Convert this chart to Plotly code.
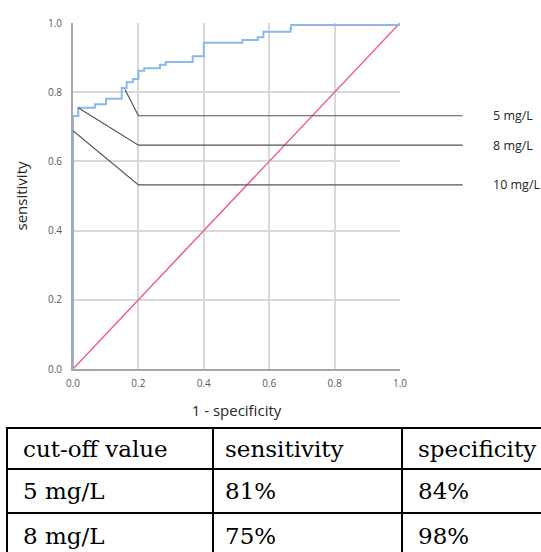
import plotly.graph_objects as go

W, H = 541, 552

# ---- ROC data (1 - specificity, sensitivity), step vertices ----
fpr = [0.0, 0.0, 0.016, 0.067, 0.101, 0.149, 0.164, 0.183, 0.2, 0.218, 0.266,
       0.284, 0.366, 0.4, 0.518, 0.565, 0.582, 0.665, 0.667, 1.0]
tpr = [0.0, 0.731, 0.755, 0.765, 0.781, 0.812, 0.829, 0.838, 0.862, 0.869, 0.879,
       0.887, 0.904, 0.943, 0.951, 0.959, 0.975, 0.983, 0.994, 1.0]

ref_x = [0.0, 1.0]
ref_y = [0.0, 1.0]

# cut-off leaders: point on the curve -> label level
cutoff_labels = ["5 mg/L", "8 mg/L", "10 mg/L"]
cutoff_x = [0.159, 0.016, 0.0]
cutoff_y = [0.808, 0.755, 0.689]
label_level = [0.732, 0.647, 0.532]

tick_vals = [0.0, 0.2, 0.4, 0.6, 0.8, 1.0]
tick_text = ["0.0", "0.2", "0.4", "0.6", "0.8", "1.0"]

table_header = ["cut-off value", "sensitivity", "specificity"]
table_rows = [["5 mg/L", "81%", "84%"],
              ["8 mg/L", "75%", "98%"]]

# ---- geometry (pixels) ----
PX0, PX1 = 73, 400      # plot area x
PY0, PY1 = 23, 369      # plot area y (top, bottom)
scale_x = PX1 - PX0

def px(x):
    return x / W

def py(y):
    return 1 - y / H

fig = go.Figure()

fig.add_trace(go.Scatter(x=ref_x, y=ref_y, mode="lines",
                         line=dict(color="#EE6284", width=1.5),
                         hoverinfo="skip", showlegend=False))
fig.add_trace(go.Scatter(x=fpr, y=tpr, mode="lines", line_shape="hv",
                         line=dict(color="#8DB8EC", width=2),
                         showlegend=False))

bend_x = 0.2
end_x = (462.7 - PX0) / scale_x
lab_x = (491.0 - PX0) / scale_x
for lab, cx, cy, ly in zip(cutoff_labels, cutoff_x, cutoff_y, label_level):
    fig.add_trace(go.Scatter(x=[cx, bend_x, end_x], y=[cy, ly, ly], mode="lines",
                             line=dict(color="#555555", width=1.2),
                             xaxis="x2", yaxis="y2", hoverinfo="skip",
                             showlegend=False))
    fig.add_annotation(x=lab_x, y=ly, xref="x2", yref="y2", text=lab,
                       showarrow=False, xanchor="left", yanchor="middle",
                       font=dict(family="Open Sans", size=12.5, color="#262626"))

axis_font = dict(family="Open Sans", size=10, color="#595959")
x2_range_max = (W - PX0) / scale_x

fig.update_layout(
    width=W, height=H,
    margin=dict(l=0, r=0, t=0, b=0),
    paper_bgcolor="white",
    plot_bgcolor="rgba(0,0,0,0)",
    xaxis=dict(domain=[px(PX0), px(PX1)], range=[0, 1], tickvals=tick_vals,
               ticktext=tick_text, showgrid=True, gridcolor="#D9D9D9", gridwidth=1.5,
               zeroline=False, showline=True, linecolor="#A6A6A6", linewidth=2,
               ticks="", tickfont=axis_font, automargin=False, ticklabelstandoff=4,
               title=dict(text="1 - specificity", standoff=16,
                          font=dict(family="Open Sans", size=15, color="#262626"))),
    yaxis=dict(domain=[py(PY1), py(PY0)], range=[0, 1], tickvals=tick_vals,
               ticktext=tick_text, showgrid=True, gridcolor="#D9D9D9", gridwidth=1.5,
               zeroline=False, showline=True, linecolor="#A6A6A6", linewidth=2,
               ticks="", tickfont=axis_font, automargin=False, ticklabelstandoff=7,
               title=dict(text="sensitivity", standoff=17,
                          font=dict(family="Open Sans", size=15, color="#262626"))),
    xaxis2=dict(domain=[px(PX0), 1.0], range=[0, x2_range_max], visible=False,
                anchor="y2", fixedrange=True),
    yaxis2=dict(domain=[py(PY1), py(PY0)], range=[0, 1], visible=False,
                anchor="x2", fixedrange=True),
)

# ---- table drawn below the chart ----
col_edges = [7, 213, 402, 570]
row_edges = [428, 469, 513, 558]
pad = [14, 10, 14]
line = dict(color="black", width=2)
for yv in row_edges:
    fig.add_shape(type="line", xref="paper", yref="paper",
                  x0=px(col_edges[0] - 1), x1=px(col_edges[-1]), y0=py(yv), y1=py(yv), line=line)
for xv in col_edges:
    fig.add_shape(type="line", xref="paper", yref="paper",
                  x0=px(xv), x1=px(xv), y0=py(row_edges[0]), y1=py(row_edges[-1]), line=line)

all_rows = [table_header] + table_rows
for r, row in enumerate(all_rows):
    yc = (row_edges[r] + row_edges[r + 1]) / 2
    for c, txt in enumerate(row):
        fig.add_annotation(x=px(col_edges[c] + pad[c]), y=py(yc), xref="paper", yref="paper",
                           text=txt, showarrow=False, xanchor="left", yanchor="middle",
                           font=dict(family="DejaVu Serif", size=23, color="black"))

fig.write_html("out.html", config={"displayModeBar": False},
               post_script="document.body.style.margin='0px';document.body.style.overflow='hidden';")
